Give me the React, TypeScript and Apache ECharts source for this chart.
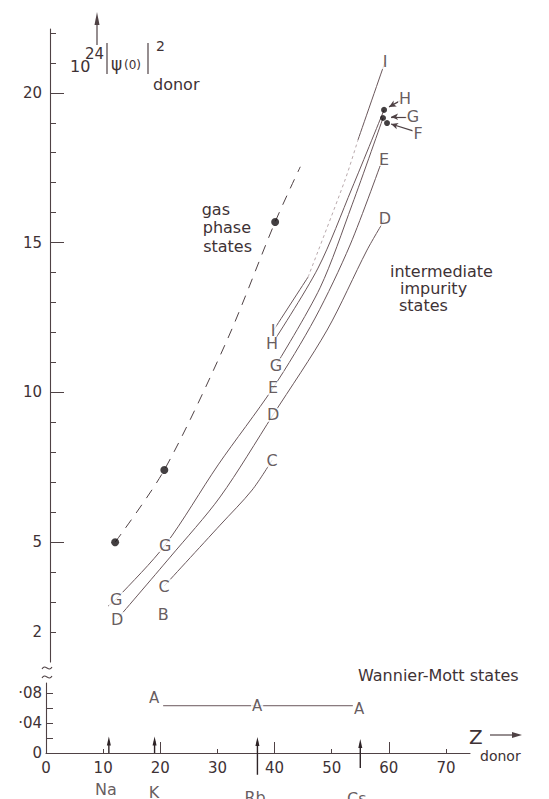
import React, { useEffect, useRef } from 'react';
import * as echarts from 'echarts';

// ---------- axes ----------
const X_MAX = 74.2;
const xLabelValues = [0, 10, 20, 30, 40, 50, 60, 70];
const xShortTicks = [10, 30, 50, 70];
const xLongTicks = [20, 40, 60];
const UPPER_MIN = 1;
const UPPER_MAX = 22.13;
const upperShortTicks = [2, 3, 4, 6, 7, 8, 9, 11, 12, 13, 14, 16, 17, 18, 19, 21, 22];
const upperLongTicks = [5, 10, 15, 20];
const upperLabelValues = [2, 5, 10, 15, 20];
const LOWER_MAX = 0.0933;
const lowerTicks = [0.02, 0.04, 0.06, 0.08];
const lowerLabelValues = [0, 0.04, 0.08];
const lowerLabelTexts = ['0', '·04', '·08'];

// ---------- donor elements ----------
const elementNames = ['Na', 'K', 'Rb', 'Cs'];
const elementZ = [11, 19, 37, 55];
const elementArrowTop = [0.016, 0.016, 0.0153, 0.0127];
const elementArrowBottom = [0, 0, -0.029, -0.02];
const elementLabelZ = [10.5, 18.9, 36.6, 54.4];
const elementLabelY = [-0.0493, -0.052, -0.0587, -0.0613];

// ---------- gas phase states ----------
const gasZ = [12.1, 20.7, 40.1];
const gasPsi = [5.0, 7.41, 15.69];
const gasTrend = [[12.1, 5.0], [20.7, 7.41], [31.7, 11.75], [40.1, 15.69], [44.5, 17.53]];

// ---------- intermediate impurity states ----------
const curveGE = [[10.88, 2.87], [12.28, 3.1], [20.85, 4.905], [30.12, 7.58], [39.74, 10.15], [47.09, 12.48], [53.21, 14.92], [58.98, 17.83]];
const curveD = [[12.47, 2.434], [21.72, 4.5], [30.47, 6.51], [39.74, 9.25], [49.19, 12.08], [56.18, 14.75], [59.33, 15.79]];
const curveC = [[20.68, 3.536], [30.47, 5.57], [36.07, 6.74], [39.57, 7.74]];
const curveH = [[39.57, 11.62], [47.61, 14.15], [53.56, 16.82], [59.16, 19.43]];
const curveG = [[40.26, 10.91], [47.96, 13.49], [53.56, 16.26], [58.98, 19.16]];
const curveILow = [[39.74, 12.05], [45.86, 13.85]];
const curveIMid = [[45.86, 13.85], [52.33, 17.09], [54.6, 18.43]];
const curveIHigh = [[54.6, 18.43], [59.33, 21.03]];

// converging points at Cs
const csPointName = ['H', 'G', 'F'];
const csPointZ = [59.16, 58.98, 59.68];
const csPointY = [19.43, 19.16, 18.99];
const csPointerFrom = [[61.94, 19.73], [63.18, 19.2], [64.23, 18.73]];
const csPointerTo = [[60.03, 19.53], [60.38, 19.2], [60.38, 18.96]];

// state letters
const letterText = ['G', 'D', 'G', 'C', 'B', 'I', 'H', 'G', 'E', 'D', 'C', 'I', 'E', 'D', 'H', 'G', 'F'];
const letterZ = [12.28, 12.47, 20.85, 20.68, 20.5, 39.74, 39.57, 40.26, 39.74, 39.74, 39.57, 59.33, 59.16, 59.33, 62.83, 64.23, 65.1];
const letterY = [3.1, 2.434, 4.905, 3.536, 2.6, 12.05, 11.62, 10.91, 10.15, 9.25, 7.74, 21.03, 17.79, 15.79, 19.8, 19.2, 18.63];

// ---------- Wannier-Mott states ----------
const waLineZ = [20.5, 37, 53.7];
const waLineY = [0.063, 0.063, 0.063];
const waLabelZ = [18.93, 36.94, 54.79];
const waLabelY = [0.0733, 0.0627, 0.0587];

export default function App() {
  const ref = useRef<HTMLDivElement>(null);

  useEffect(() => {
    if (!ref.current) return;
    const chart = echarts.init(ref.current, null, { renderer: 'svg' });
    const FONT = '"DejaVu Sans", sans-serif';
    const TEXT = '#3e3235';
    const LINE = '#6a575b';
    const AXIS = '#4f4245';
    const DARK = '#2e2427';

    const curve = (data: number[][], extra: any = {}) => ({
      type: 'line',
      xAxisIndex: 0,
      yAxisIndex: 0,
      data,
      smooth: 0.3,
      symbol: 'none',
      silent: true,
      clip: false,
      z: 2,
      lineStyle: { color: LINE, width: 1 },
      ...extra,
    });

    const labelStyle = (size: number, bg = true) => ({
      show: true,
      position: 'inside',
      formatter: (p: any) => p.name,
      color: TEXT,
      fontSize: size,
      fontFamily: FONT,
      backgroundColor: bg ? '#ffffff' : 'transparent',
      padding: [0, 1],
      lineHeight: 14,
    });

    const txt = (x: number, y: number, text: string, size: number, align = 'left') => ({
      type: 'text',
      x,
      y,
      silent: true,
      z: 10,
      style: {
        text,
        fill: TEXT,
        font: `${size}px ${FONT}`,
        textAlign: align,
        align,
        textVerticalAlign: 'middle',
        verticalAlign: 'middle',
      },
    });
    const seg = (x1: number, y1: number, x2: number, y2: number, w = 1.1) => ({
      type: 'line',
      silent: true,
      z: 10,
      shape: { x1, y1, x2, y2 },
      style: { stroke: AXIS, lineWidth: w },
    });
    const tilde = (y: number) => ({
      type: 'bezierCurve',
      silent: true,
      z: 10,
      shape: { x1: 42, y1: y + 1, cpx1: 45.5, cpy1: y - 5, cpx2: 48.5, cpy2: y + 5, x2: 52, y2: y - 1 },
      style: { stroke: AXIS, lineWidth: 1.1, fill: 'none' },
    });

    const donorArrows = elementZ.map((z, i) => ({
      type: 'line',
      xAxisIndex: 1,
      yAxisIndex: 2,
      clip: false,
      silent: true,
      z: 4,
      showSymbol: true,
      data: [
        { value: [z, elementArrowBottom[i]], symbol: 'none' },
        { value: [z, elementArrowTop[i]], symbol: 'triangle', symbolSize: [4, 9] },
      ],
      lineStyle: { color: DARK, width: 1.4 },
      itemStyle: { color: DARK },
    }));

    const option: any = {
      animation: false,
      backgroundColor: '#ffffff',
      textStyle: { fontFamily: FONT },
      grid: [
        { left: 46, right: 79, top: 29, height: 633 },
        { left: 46, right: 79, top: 683, height: 70 },
      ],
      xAxis: [
        { gridIndex: 0, type: 'value', min: 0, max: X_MAX, show: false },
        {
          gridIndex: 1,
          type: 'value',
          min: 0,
          max: X_MAX,
          position: 'bottom',
          axisLine: { show: true, onZero: false, lineStyle: { color: AXIS, width: 1.1 } },
          axisTick: { show: true, inside: true, length: 4, customValues: xShortTicks, lineStyle: { color: AXIS } },
          axisLabel: { show: true, customValues: xLabelValues, margin: 7, fontSize: 15, color: TEXT, fontFamily: FONT },
          splitLine: { show: false },
        },
        {
          gridIndex: 1,
          type: 'value',
          min: 0,
          max: X_MAX,
          position: 'bottom',
          axisLine: { show: false },
          axisTick: { show: true, inside: true, length: 11, customValues: xLongTicks, lineStyle: { color: AXIS } },
          axisLabel: { show: false },
          splitLine: { show: false },
        },
      ],
      yAxis: [
        {
          gridIndex: 0,
          type: 'value',
          position: 'left',
          offset: -4,
          min: UPPER_MIN,
          max: UPPER_MAX,
          axisLine: { show: true, onZero: false, lineStyle: { color: AXIS, width: 1.1 } },
          axisTick: { show: true, inside: true, length: 6, customValues: upperShortTicks, lineStyle: { color: AXIS } },
          axisLabel: { show: true, customValues: upperLabelValues, margin: 8, fontSize: 15, color: TEXT, fontFamily: FONT },
          splitLine: { show: false },
        },
        {
          gridIndex: 0,
          type: 'value',
          position: 'left',
          offset: -4,
          min: UPPER_MIN,
          max: UPPER_MAX,
          axisLine: { show: false, onZero: false },
          axisTick: { show: true, inside: true, length: 14, customValues: upperLongTicks, lineStyle: { color: AXIS } },
          axisLabel: { show: false },
          splitLine: { show: false },
        },
        {
          gridIndex: 1,
          type: 'value',
          position: 'left',
          min: 0,
          max: LOWER_MAX,
          axisLine: { show: true, onZero: false, lineStyle: { color: AXIS, width: 1.1 } },
          axisTick: { show: true, inside: true, length: 7, customValues: lowerTicks, lineStyle: { color: AXIS } },
          axisLabel: {
            show: true,
            customValues: lowerLabelValues,
            margin: 4,
            fontSize: 15,
            color: TEXT,
            fontFamily: FONT,
            formatter: (v: number) => {
              const i = lowerLabelValues.findIndex((l) => Math.abs(l - v) < 1e-6);
              return i >= 0 ? lowerLabelTexts[i] : '';
            },
          },
          splitLine: { show: false },
        },
      ],
      series: [
        // gas phase trend (dashed)
        curve(gasTrend, { lineStyle: { color: AXIS, width: 1, type: [10, 8] } }),
        {
          type: 'scatter',
          xAxisIndex: 0,
          yAxisIndex: 0,
          data: gasZ.map((z, i) => [z, gasPsi[i]]),
          symbol: 'circle',
          symbolSize: 8,
          itemStyle: { color: '#140f11' },
          silent: true,
          z: 6,
        },
        // impurity curves
        curve(curveGE),
        curve(curveD),
        curve(curveC),
        curve(curveH),
        curve(curveG),
        curve(curveILow),
        curve(curveIMid, { lineStyle: { color: '#b9aaad', width: 1, type: [3, 3] } }),
        curve(curveIHigh),
        // converging points at Cs with pointers
        {
          type: 'scatter',
          xAxisIndex: 0,
          yAxisIndex: 0,
          data: csPointZ.map((z, i) => ({ value: [z, csPointY[i]], name: csPointName[i] })),
          symbol: 'circle',
          symbolSize: 6,
          itemStyle: { color: '#140f11' },
          silent: true,
          z: 6,
          markLine: {
            silent: true,
            symbol: ['none', 'arrow'],
            symbolSize: [5, 7],
            label: { show: false },
            lineStyle: { color: AXIS, width: 1.2, type: 'solid' },
            data: csPointerFrom.map((f, i) => [{ coord: f }, { coord: csPointerTo[i] }]),
          },
        },
        // state letters
        {
          type: 'scatter',
          xAxisIndex: 0,
          yAxisIndex: 0,
          data: letterText.map((t, i) => ({ value: [letterZ[i], letterY[i]], name: t })),
          symbol: 'circle',
          symbolSize: 1,
          itemStyle: { color: 'rgba(0,0,0,0)' },
          silent: true,
          clip: false,
          z: 5,
          label: labelStyle(16),
        },
        // Wannier-Mott A line
        {
          type: 'line',
          xAxisIndex: 1,
          yAxisIndex: 2,
          data: waLineZ.map((z, i) => [z, waLineY[i]]),
          symbol: 'none',
          silent: true,
          clip: false,
          lineStyle: { color: LINE, width: 1 },
          z: 2,
        },
        {
          type: 'scatter',
          xAxisIndex: 1,
          yAxisIndex: 2,
          data: waLabelZ.map((z, i) => ({ value: [z, waLabelY[i]], name: 'A' })),
          symbol: 'circle',
          symbolSize: 1,
          itemStyle: { color: 'rgba(0,0,0,0)' },
          silent: true,
          clip: false,
          z: 5,
          label: labelStyle(15),
        },
        // donor arrows and names
        ...donorArrows,
        {
          type: 'scatter',
          xAxisIndex: 1,
          yAxisIndex: 2,
          data: elementNames.map((n, i) => ({ value: [elementLabelZ[i], elementLabelY[i]], name: n })),
          symbol: 'circle',
          symbolSize: 1,
          itemStyle: { color: 'rgba(0,0,0,0)' },
          silent: true,
          clip: false,
          z: 5,
          label: labelStyle(16, false),
        },
      ],
      graphic: [
        // y-axis title with arrow
        seg(97, 45, 97, 20, 1.2),
        { type: 'polygon', silent: true, z: 10, shape: { points: [[94.5, 25], [97, 12], [99.5, 25]] }, style: { fill: AXIS } },
        txt(70, 66, '10', 16),
        txt(85, 54, '24', 15),
        seg(107, 43, 107, 74, 1.2),
        txt(111, 64, 'ψ', 17),
        txt(124, 65, '(0)', 12),
        seg(148, 43, 148, 74, 1.2),
        txt(156, 46, '2', 14),
        txt(153, 84, 'donor', 16),
        // axis break
        tilde(668),
        tilde(677),
        // annotations
        txt(230, 209, 'gas', 16, 'right'),
        txt(251, 227, 'phase', 16, 'right'),
        txt(252, 246, 'states', 16, 'right'),
        txt(390, 271, 'intermediate', 16),
        txt(400, 288, 'impurity', 16),
        txt(399, 305, 'states', 16),
        txt(358, 675, 'Wannier-Mott states', 16),
        // x-axis title
        txt(469, 737, 'Z', 20),
        seg(490, 735, 514, 735, 1.2),
        { type: 'polygon', silent: true, z: 10, shape: { points: [[512, 732], [522, 735], [512, 738]] }, style: { fill: AXIS } },
        txt(480, 756, 'donor', 14),
      ],
    };

    chart.setOption(option);
    return () => chart.dispose();
  }, []);

  return <div ref={ref} style={{ position: 'fixed', left: 0, top: 0, width: 549, height: 799 }} />;
}
